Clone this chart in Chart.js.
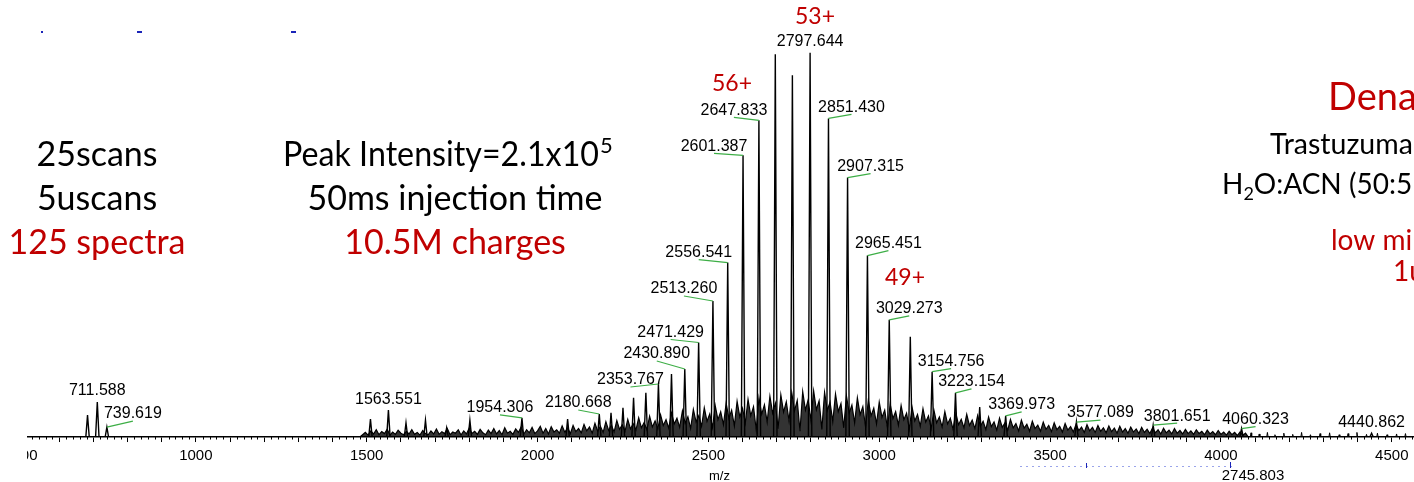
<!DOCTYPE html>
<html>
<head>
<meta charset="utf-8">
<title>Trastuzumab denatured spectrum</title>
<script src="https://cdn.jsdelivr.net/npm/chart.js@4.4.1/dist/chart.umd.min.js"></script>
<style>
  html, body { margin: 0; padding: 0; background: #fff; }
  #spectrum { display: block; }
</style>
</head>
<body>
<canvas id="spectrum" width="1414" height="482"></canvas>
<script>
// m/z window shown on the axis
var mzMin = 500;
var mzMax = 4565;

// centroided peaks: m/z and relative intensity (% of base peak)
var peakMz = [
    683, 711.588, 739.619,
    1511, 1563.551, 1615, 1672, 1734, 1802, 1954.306, 2088,
    2180.668, 2215, 2250, 2281, 2317, 2353.767, 2392, 2430.890, 2471.429,
    2513.260, 2556.541, 2601.387, 2647.833, 2695.8, 2745.8, 2797.644,
    2851.430, 2907.315, 2965.451, 3029.273, 3090.9, 3154.756, 3223.154,
    3294, 3369.973, 3577.089, 3801.651, 4060.323, 4440.862
];
var peakHeight = [
    5.7, 9.1, 2.6,
    4.7, 7.0, 3.7, 4.4, 2.4, 4.4, 5.0, 4.7,
    6.0, 6.3, 7.6, 10.2, 11.5, 13.8, 16.4, 17.7, 24.6,
    35.4, 45.4, 73.3, 82.4, 99.6, 94.1, 100,
    82.9, 67.5, 47.2, 30.5, 26.1, 17.0, 11.5,
    7.8, 5.5, 3.9, 3.1, 2.2, 1.0
];

// peaks carrying an m/z annotation
var labelMz = [
    711.588, 739.619, 1563.551, 1954.306, 2180.668, 2353.767, 2430.890,
    2471.429, 2513.260, 2556.541, 2601.387, 2647.833, 2797.644, 2851.430,
    2907.315, 2965.451, 3029.273, 3154.756, 3223.154, 3369.973, 3577.089,
    3801.651, 4060.323, 4440.862
];
// where each annotation sits relative to its peak apex (px)
var labelOffsets = [
    [0, -11], [26, -13], [0, -11], [-22, -10], [-21, -11], [-28, -4], [-28, -15],
    [-28, -10], [-29, -12], [-29, -10], [-29, -9], [-25, -10], [0, -11], [23, -11],
    [23, -11], [21, -12], [20, -11], [19, -10], [16, -11], [16, -11], [24, -9],
    [24, -9], [14, -9], [0, -11]
];

// profile between the peaks, one value every noiseStep m/z from noiseStart
var noiseStart = 1480;
var noiseStep = 8;
var noiseLevel = [
    0, 0.6, 1.2, 0.5, 1.6, 0.8, 1.9, 0.6, 1.4, 0.9, 2.0, 0.5, 1.3, 0.7, 1.8, 1.0, 0.6, 1.5, 0.8, 1.9, 0.7, 1.2, 0.5, 1.7, 0.9,
    0.6, 1.6, 0.8, 2.1, 0.7, 1.4, 0.9, 2.2, 0.6, 1.3, 1.0, 1.9, 0.5, 1.6, 0.8, 2.3, 0.9, 1.5, 0.7, 2.0, 1.1, 0.6, 1.8, 0.9, 2.2,
    0.8, 1.7, 0.6, 2.4, 1.0, 1.5, 0.7, 2.1, 1.2, 2.6, 0.8, 1.9, 1.1, 2.5, 0.9, 1.6, 2.8, 1.0, 2.2, 0.8, 2.7, 1.3, 1.9, 1.0, 2.9,
    1.2, 2.4, 0.9, 3.0, 1.4, 2.2, 1.1, 3.3, 1.6, 2.6, 1.0, 3.6, 1.5, 2.8, 1.2, 4.0, 1.7, 3.1, 1.3, 4.3, 2.0, 3.2, 1.5, 4.6, 2.1,
    3.5, 1.8, 5.0, 2.4, 3.8, 1.9, 5.4, 2.6, 4.2, 2.1, 5.8, 3.0, 4.5, 2.3, 6.3, 3.4, 4.9, 2.5, 6.8, 3.6, 5.3, 2.2, 7.2, 3.9, 5.6,
    2.8, 7.6, 4.1, 6.0, 2.5, 8.2, 4.5, 6.6, 3.2, 8.8, 4.8, 7.0, 2.9, 9.3, 5.2, 7.5, 3.6, 9.8, 5.5, 7.9, 1.8, 10.2, 5.9, 8.4, 3.9,
    10.6, 6.2, 8.8, 2.2, 11.0, 6.5, 9.2, 4.2, 11.5, 6.8, 9.5, 1.5, 11.8, 7.0, 9.7, 4.4, 12.0, 7.1, 9.4, 2.0, 11.6, 6.9, 9.1, 4.0, 11.2,
    6.6, 8.7, 2.4, 10.7, 6.2, 8.3, 3.7, 10.2, 5.8, 7.9, 2.6, 9.6, 5.5, 7.5, 3.4, 9.1, 5.1, 7.0, 2.3, 8.6, 4.8, 6.6, 3.1, 8.2, 4.5,
    6.2, 2.0, 7.8, 4.2, 5.9, 2.8, 7.4, 3.9, 5.5, 2.2, 7.0, 3.7, 5.2, 2.6, 6.6, 3.4, 4.9, 2.0, 6.2, 3.2, 4.6, 2.4, 5.9, 3.0, 4.4,
    2.2, 5.6, 2.8, 4.1, 1.9, 5.2, 2.7, 3.9, 1.8, 4.9, 2.5, 3.7, 1.7, 4.6, 2.4, 3.5, 1.6, 4.4, 2.3, 3.3, 1.5, 4.1, 2.2, 3.1, 1.5,
    3.9, 2.0, 3.0, 1.4, 3.7, 1.9, 2.8, 1.3, 3.5, 1.8, 2.7, 1.3, 3.3, 1.7, 2.6, 1.2, 3.2, 1.6, 2.5, 1.2, 3.0, 1.5, 2.4, 1.1, 2.9,
    1.4, 2.3, 1.0, 2.8, 1.3, 2.2, 1.0, 2.6, 1.3, 2.1, 0.9, 2.5, 1.2, 2.0, 0.9, 2.4, 1.1, 1.9, 0.8, 2.3, 1.1, 1.8, 0.8, 2.2, 1.0,
    1.7, 0.8, 2.0, 0.9, 1.6, 0.7, 1.9, 0.9, 1.5, 0.6, 1.8, 0.8, 1.4, 0.6, 1.7, 0.7, 1.3, 0.5, 1.5, 0.6, 1.2, 0.4, 1.3, 0.5, 1.0
];

// isolated spikes in the high-m/z tail
var tailMz = [4088, 4112, 4136, 4158, 4184, 4210, 4236, 4262, 4290, 4318, 4346, 4372, 4398, 4426, 4458, 4486, 4514, 4540];
var tailHeight = [1.1, 0.8, 1.2, 0.6, 1.0, 0.7, 1.2, 0.6, 0.9, 1.1, 0.6, 0.9, 1.2, 0.7, 1.0, 0.6, 0.8, 0.9];

var RED = '#c00000';
var SLIDE_FONT = 'Lato, "Open Sans", sans-serif';
var PLOT_FONT = '"Liberation Sans", Arial, sans-serif';

// --- build datasets ---------------------------------------------------------

function profilePoints() {
    var pts = [{ x: mzMin, y: 0 }, { x: noiseStart - noiseStep, y: 0 }];
    noiseLevel.forEach(function(v, i) {
        pts.push({ x: noiseStart + i * noiseStep, y: v });
    });
    var last = noiseStart + noiseLevel.length * noiseStep;
    pts.push({ x: last, y: 0 }, { x: mzMax, y: 0 });
    return pts;
}

// each stick is a narrow triangle, separated from the next by a gap
function stickPoints(mzList, heights, halfWidth) {
    var pts = [];
    mzList.forEach(function(mz, i) {
        pts.push({ x: mz - halfWidth, y: 0 });
        pts.push({ x: mz, y: heights[i] });
        pts.push({ x: mz + halfWidth, y: 0 });
        pts.push({ x: mz + halfWidth, y: null });
    });
    return pts;
}

// --- plugins ----------------------------------------------------------------

// small ticks every 20 m/z, the scale itself draws the 100 ones
var minorTicks = {
    id: 'minorTicks',
    afterDraw: function(chart) {
        var xs = chart.scales.x, ctx = chart.ctx;
        var y0 = chart.chartArea.bottom;
        ctx.save();
        ctx.strokeStyle = '#000';
        ctx.lineWidth = 1;
        ctx.beginPath();
        for (var v = mzMin; v <= mzMax; v += 20) {
            if (v % 100 === 0) continue;
            var px = Math.round(xs.getPixelForValue(v)) + 0.5;
            ctx.moveTo(px, y0);
            ctx.lineTo(px, y0 + 2.5);
        }
        ctx.stroke();
        ctx.restore();
    }
};

var peakLabels = {
    id: 'peakLabels',
    afterDatasetsDraw: function(chart) {
        var ctx = chart.ctx, xs = chart.scales.x, ys = chart.scales.y;
        ctx.save();
        ctx.font = '16px ' + PLOT_FONT;
        ctx.textAlign = 'center';
        ctx.textBaseline = 'middle';
        labelMz.forEach(function(mz, i) {
            var k = peakMz.indexOf(mz);
            var px = xs.getPixelForValue(mz);
            var py = ys.getPixelForValue(peakHeight[k]);
            var tx = px + labelOffsets[i][0];
            var ty = py + labelOffsets[i][1];
            if (labelOffsets[i][0] !== 0) {
                ctx.strokeStyle = '#3dae46';
                ctx.lineWidth = 1.2;
                ctx.beginPath();
                ctx.moveTo(px, py);
                ctx.lineTo(tx, ty + 7);
                ctx.stroke();
            }
            ctx.fillStyle = '#000';
            ctx.fillText(mz.toFixed(3), tx, ty);
        });
        ctx.restore();
    }
};

// maxWidth squeezes a line the way the narrower slide font sets it
function put(ctx, str, x, y, size, color, align, maxWidth) {
    ctx.font = size + 'px ' + SLIDE_FONT;
    ctx.fillStyle = color;
    ctx.textAlign = align || 'center';
    ctx.textBaseline = 'alphabetic';
    if (maxWidth) ctx.fillText(str, x, y, maxWidth);
    else ctx.fillText(str, x, y);
}

// slide annotations around the spectrum
var slideText = {
    id: 'slideText',
    afterDraw: function(chart) {
        var ctx = chart.ctx;
        ctx.save();

        // left edge of the pasted spectrum is cut off
        ctx.fillStyle = '#fff';
        ctx.fillRect(0, 425, 27, 57);

        // acquisition settings
        put(ctx, '25scans', 97, 166, 34, '#000');
        put(ctx, '5uscans', 97, 210, 34, '#000');
        put(ctx, '125 spectra', 97, 254, 34, RED);

        put(ctx, 'Peak Intensity=2.1x10', 283, 166, 34, '#000', 'left', 316);
        put(ctx, '5', 600, 153, 22, '#000', 'left');
        put(ctx, '50ms injection time', 455, 210, 34, '#000');
        put(ctx, '10.5M charges', 455, 254, 34, RED);

        // charge states
        put(ctx, '53+', 815, 24, 23, RED);
        put(ctx, '56+', 732, 91, 23, RED);
        put(ctx, '49+', 905, 285, 23, RED);

        // sample block on the right
        put(ctx, 'Dena', 1328, 110, 38, RED, 'left');
        put(ctx, 'Trastuzuma', 1270, 154, 28.5, '#000', 'left');
        ctx.font = '28px ' + SLIDE_FONT;
        var wH = ctx.measureText('H').width;
        put(ctx, 'H', 1222, 194, 28, '#000', 'left');
        put(ctx, '2', 1222 + wH, 200, 18, '#000', 'left');
        ctx.font = '18px ' + SLIDE_FONT;
        var w2 = ctx.measureText('2').width;
        put(ctx, 'O:ACN (50:5', 1222 + wH + w2, 194, 28, '#000', 'left');
        put(ctx, 'low mi', 1331, 250, 28, RED, 'left');
        put(ctx, '1u', 1393, 281, 28, RED, 'left');

        // stray m/z readout under the axis
        ctx.font = '15px ' + PLOT_FONT;
        ctx.fillStyle = '#000';
        ctx.textAlign = 'center';
        ctx.textBaseline = 'middle';
        ctx.fillText('2745.803', 1253, 476);

        // leftover marker dots
        ctx.fillStyle = '#1a24b8';
        ctx.fillRect(41, 31, 2, 2);
        ctx.fillRect(137, 31, 5, 2);
        ctx.fillRect(291, 31, 5, 2);
        ctx.strokeStyle = '#9aa4ea';
        ctx.lineWidth = 1;
        ctx.setLineDash([2, 4]);
        ctx.beginPath();
        ctx.moveTo(1020, 466.5);
        ctx.lineTo(1232, 466.5);
        ctx.stroke();
        ctx.setLineDash([]);
        ctx.strokeStyle = '#1a24b8';
        ctx.beginPath();
        ctx.moveTo(1086.5, 463); ctx.lineTo(1086.5, 468);
        ctx.moveTo(1230.5, 462); ctx.lineTo(1230.5, 468);
        ctx.stroke();

        ctx.restore();
    }
};

// --- chart ------------------------------------------------------------------

var ctx = document.getElementById('spectrum').getContext('2d');
new Chart(ctx, {
    type: 'line',
    data: {
        datasets: [
            {
                label: 'profile',
                data: profilePoints(),
                borderColor: '#000',
                borderWidth: 1.2,
                backgroundColor: 'rgba(0,0,0,0.8)',
                fill: 'origin',
                pointRadius: 0
            },
            {
                label: 'peaks',
                data: stickPoints(peakMz, peakHeight, 5),
                borderColor: '#000',
                borderWidth: 1.4,
                pointRadius: 0,
                spanGaps: false
            },
            {
                label: 'tail',
                data: stickPoints(tailMz, tailHeight, 2),
                borderColor: '#000',
                borderWidth: 1,
                pointRadius: 0,
                spanGaps: false
            }
        ]
    },
    options: {
        responsive: false,
        animation: false,
        events: [],
        layout: { padding: { left: 25, right: 0, top: 0, bottom: 0 } },
        elements: { line: { tension: 0 } },
        plugins: {
            legend: { display: false },
            tooltip: { enabled: false },
            filler: { propagate: false }
        },
        scales: {
            x: {
                type: 'linear',
                min: mzMin,
                max: mzMax,
                border: { display: true, color: '#000', width: 1.5 },
                grid: {
                    drawOnChartArea: false,
                    drawTicks: true,
                    tickLength: 5,
                    tickColor: '#000',
                    tickWidth: 1
                },
                ticks: {
                    stepSize: 100,
                    autoSkip: false,
                    includeBounds: false,
                    maxRotation: 0,
                    padding: 5,
                    color: '#000',
                    font: { family: PLOT_FONT, size: 15 },
                    callback: function(v) { return v % 500 === 0 ? String(v) : ''; }
                },
                title: {
                    display: true,
                    text: 'm/z',
                    color: '#000',
                    font: { family: PLOT_FONT, size: 13, lineHeight: 0.92 },
                    padding: { top: 0, bottom: 0 }
                }
            },
            y: { display: false, min: 0, max: 113.7 }
        }
    },
    plugins: [minorTicks, peakLabels, slideText]
});
</script>
</body>
</html>
